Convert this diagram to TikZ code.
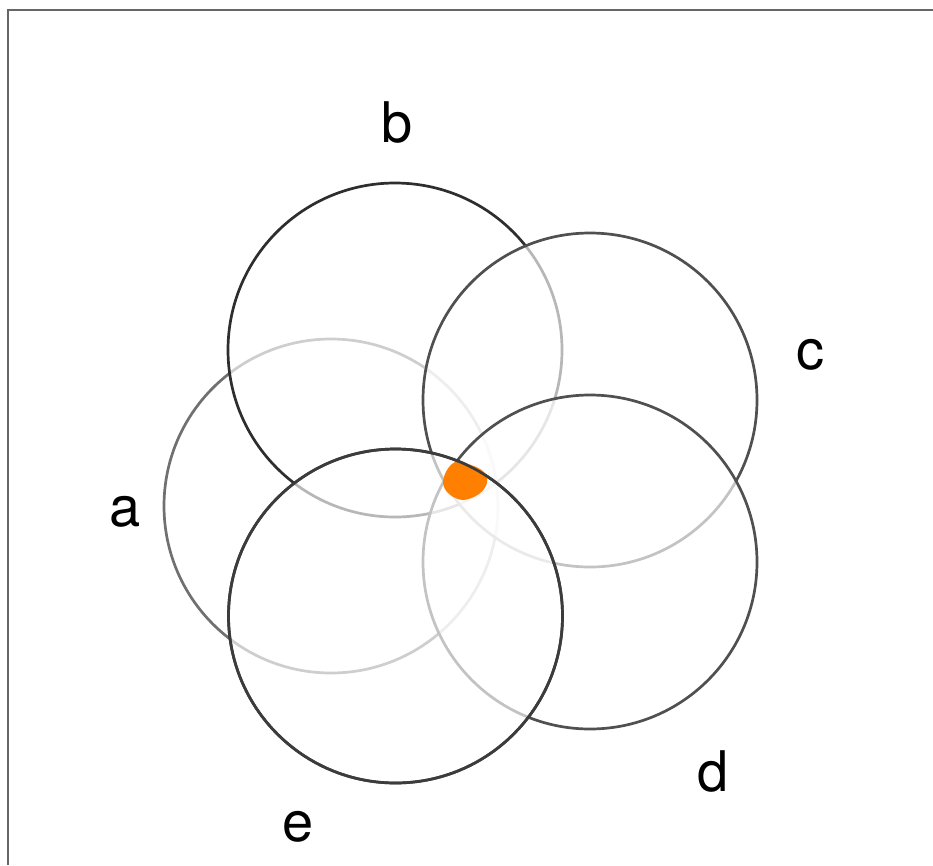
\documentclass[tikz,border=0pt]{standalone}
\usepackage{fontspec}
\setmainfont{TeX Gyre Heros}
\definecolor{framecol}{HTML}{666666}
\definecolor{acol}{HTML}{707070}
\definecolor{bcol}{HTML}{2E2E2E}
\definecolor{ccol}{HTML}{505050}
\definecolor{dcol}{HTML}{505050}
\definecolor{ecol}{HTML}{3C3C3C}
\definecolor{core}{HTML}{FF8000}
\begin{document}
\begin{tikzpicture}[x=1pt,y=-1pt,
  venn/.style={line width=2.7pt, fill=white, fill opacity=0.66},
  lbl/.style={font=\fontsize{56}{60}\selectfont, anchor=base, inner sep=0pt}]
\useasboundingbox (0,0) rectangle (933,865);
\draw[framecol, line width=2.2pt] (8,865) -- (8,10) -- (933,10);
\coordinate (a) at (331,506);
\coordinate (b) at (395,350);
\coordinate (c) at (590,400);
\coordinate (d) at (590,562);
\coordinate (e) at (395.5,616);
\path[venn, draw=acol] (a) circle[radius=167pt];
\path[venn, draw=bcol] (b) circle[radius=167pt];
\path[venn, draw=ccol] (c) circle[radius=167pt];
\path[venn, draw=dcol] (d) circle[radius=167pt];
\path[venn, draw=ecol] (e) circle[radius=167pt];
\fill[core] plot[smooth cycle, tension=0.6] coordinates {(456,462) (471,465) (484,472) (487,483) (479,494) (463,500) (449,494) (443,483) (447,470)};
\draw[ecol, line width=2.7pt] (e) circle[radius=167pt];
\node[lbl] (la) at (125.5,526) {a};
\node[lbl] (lb) at (397,142) {b};
\node[lbl] (lc) at (810.5,369) {c};
\node[lbl] (ld) at (713.5,791) {d};
\node[lbl] (le) at (298,841) {e};
\end{tikzpicture}
\end{document}
